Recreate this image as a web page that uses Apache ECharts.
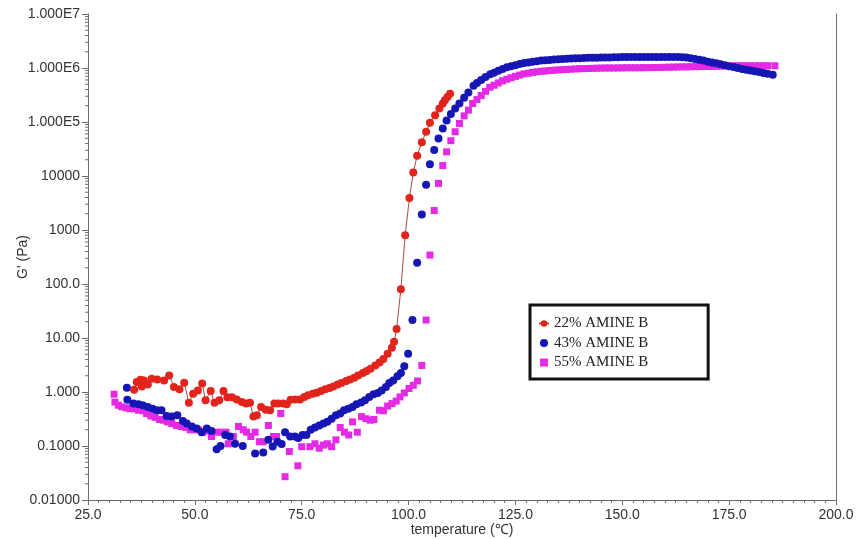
<!DOCTYPE html>
<html>
<head>
<meta charset="utf-8">
<script src="https://cdn.jsdelivr.net/npm/echarts@6/dist/echarts.min.js"></script>
<style>
  html, body { margin: 0; padding: 0; background: #fff; }
  #chart { width: 856px; height: 539px; }
</style>
</head>
<body>
<div id="chart"></div>
<script>
// temperature (°C), G' (Pa)
var amine22 = [
  [35.8,1.1],[36.4,1.53],[37.3,1.69],[37.6,1.27],[38.1,1.64],[39.0,1.37],[39.9,1.76],[41.2,1.71],
  [42.8,1.64],[44.0,2.03],[45.1,1.24],[46.4,1.12],[47.5,1.49],[48.6,0.63],[49.6,0.93],[50.7,1.07],
  [51.7,1.43],[52.5,0.70],[53.7,1.04],[54.6,0.63],[55.7,0.70],[56.7,1.04],[57.6,0.80],[58.7,0.80],
  [59.8,0.73],[61.0,0.65],[62.0,0.61],[62.9,0.63],[63.7,0.35],[64.5,0.37],[65.5,0.53],[66.6,0.47],
  [67.6,0.46],[68.6,0.61],[69.5,0.61],[70.6,0.61],[71.5,0.59],[72.4,0.72],[73.4,0.73],[74.6,0.73],
  [75.6,0.81],[76.5,0.87],[77.6,0.93],[78.5,0.97],[79.5,1.04],[80.5,1.12],[81.5,1.19],[82.4,1.27],
  [83.4,1.37],[84.3,1.47],[85.4,1.6],[86.3,1.71],[87.3,1.84],[88.2,2.03],[89.3,2.24],[90.2,2.44],
  [91.1,2.7],[92.2,3.1],[93.2,3.5],[94.1,4.1],[95.1,5.1],[96.1,6.6],[96.6,8.5],[97.2,14.7],
  [98.2,80],[99.2,800],[100.2,3900],[101.1,11600],[102.0,23800],[103.1,42000],[104.1,66000],
  [105.0,97000],[106.2,134000],[107.2,178000],[108.0,220000],[108.5,252000],[109.1,290000],[109.7,335000]
];
var amine43 = [
  [34.1,1.2],[34.2,0.72],[35.6,0.61],[36.8,0.59],[37.8,0.57],[39.0,0.53],[40.1,0.49],[41.1,0.46],
  [42.2,0.46],[43.4,0.36],[44.6,0.35],[45.9,0.37],[47.2,0.29],[48.1,0.26],[49.3,0.23],[50.4,0.21],
  [51.6,0.18],[52.8,0.21],[53.9,0.19],[55.1,0.087],[56.0,0.10],[57.1,0.16],[58.2,0.15],[59.4,0.11],
  [61.2,0.10],[64.1,0.073],[66.0,0.076],[67.2,0.13],[68.2,0.098],[69.3,0.12],[70.3,0.109],[71.1,0.18],
  [72.3,0.15],[73.4,0.15],[74.2,0.14],[75.2,0.16],[76.1,0.16],[77.1,0.20],[78.1,0.22],[79.1,0.24],
  [80.1,0.26],[81.0,0.28],[82.0,0.32],[83.0,0.37],[84.0,0.40],[84.9,0.46],[85.9,0.49],[86.9,0.53],
  [87.8,0.59],[88.9,0.64],[89.8,0.70],[90.8,0.81],[91.8,0.91],[92.8,0.96],[93.7,1.07],[94.7,1.24],
  [95.5,1.47],[96.4,1.64],[97.4,1.95],[98.2,2.24],[99.0,3.0],[99.9,5.1],[100.9,21.5],[102.0,248],
  [103.1,1930],[104.1,6900],[105.0,16500],[106.0,30300],[107.0,49700],[108.0,76000],[108.9,107000],
  [109.9,140000],[110.9,178000],[111.9,220000],[113,280000],[114,350000],[115.2,470000],[116,530000],
  [117,600000],[118,680000],[119.1,770000],[120,820000],[121,890000],[122,960000],[123,1030000],
  [124,1080000],[125,1130000],[126,1190000],[127,1240000],[128,1270000],[129,1310000],[130,1340000],
  [131,1370000],[132,1390000],[133,1410000],[134,1430000],[135,1450000],[136,1470000],[137,1490000],
  [138,1500000],[139,1510000],[140,1520000],[141,1530000],[142,1540000],[143,1550000],[144,1550000],
  [145,1560000],[146,1570000],[147,1570000],[148,1580000],[149,1580000],[150,1590000],[151,1590000],
  [152,1600000],[153,1600000],[154,1600000],[155,1600000],[156,1600000],[157,1600000],[158,1600000],
  [159,1600000],[160,1600000],[161,1600000],[162,1600000],[163,1590000],[164,1580000],[165,1560000],
  [166,1510000],[167,1470000],[168,1420000],[169,1370000],[170,1310000],[171,1270000],[172,1220000],
  [173,1170000],[174,1130000],[175,1080000],[176,1040000],[177,1000000],[178,960000],[179,930000],
  [180,900000],[181,870000],[182,840000],[183,810000],[184,780000],[185.2,750000]
];
var amine55 = [
  [31.1,0.91],[31.3,0.65],[32.1,0.57],[32.9,0.53],[33.9,0.51],[34.8,0.49],[35.8,0.49],[36.8,0.46],
  [37.8,0.45],[38.7,0.40],[39.7,0.36],[40.7,0.34],[41.7,0.31],[42.6,0.30],[43.6,0.28],[44.6,0.26],
  [45.7,0.24],[46.8,0.23],[47.9,0.22],[48.9,0.20],[49.9,0.20],[50.8,0.20],[51.8,0.18],[52.8,0.19],
  [53.9,0.15],[55.1,0.18],[56.3,0.18],[57.3,0.18],[57.8,0.11],[59.0,0.15],[60.2,0.23],[61.3,0.20],
  [62.1,0.18],[63.1,0.15],[64.1,0.18],[65.1,0.12],[66.0,0.12],[67.2,0.24],[68.4,0.15],[69.1,0.15],
  [70.1,0.40],[71.1,0.027],[72.1,0.079],[73.0,0.15],[74.1,0.043],[75.0,0.097],[76.9,0.097],[78.1,0.11],
  [79.1,0.091],[80.1,0.104],[81.0,0.11],[82.0,0.097],[83.0,0.13],[84.0,0.22],[85.0,0.18],[86.0,0.16],
  [86.9,0.28],[88.0,0.18],[89.0,0.35],[90.0,0.32],[91.0,0.30],[91.9,0.31],[93.2,0.46],[94.1,0.45],
  [95.1,0.55],[96.1,0.61],[97.1,0.68],[98.0,0.81],[99.0,0.96],[100.1,1.16],[101.1,1.33],[102.1,1.6],
  [103.1,3.1],[104.1,21.5],[105.0,344],[106.0,2290],[107.0,7300],[108.0,15600],[108.9,28000],
  [109.9,45000],[110.9,66000],[111.9,94000],[113,130000],[114,166000],[115,220000],[116,260000],
  [117,310000],[118,370000],[119,440000],[120,480000],[121,530000],[122,580000],[123,620000],
  [124,660000],[125,700000],[126,740000],[127,780000],[128,800000],[129,830000],[130,850000],
  [131,870000],[132,880000],[133,900000],[134,910000],[135,920000],[136,930000],[137,940000],
  [138,950000],[139,960000],[140,970000],[141,975000],[142,980000],[143,985000],[144,990000],
  [145,995000],[146,1000000],[147,1000000],[148,1000000],[149,1005000],[150,1005000],[151,1010000],
  [152,1010000],[153,1010000],[154,1010000],[155,1015000],[156,1015000],[157,1020000],[158,1020000],
  [159,1025000],[160,1030000],[161,1035000],[162,1040000],[163,1045000],[164,1050000],[165,1050000],
  [166,1055000],[167,1060000],[168,1065000],[169,1065000],[170,1070000],[171,1075000],[172,1080000],
  [173,1085000],[174,1090000],[175,1090000],[176,1095000],[177,1100000],[178,1100000],[179,1100000],
  [180,1100000],[181,1100000],[182,1100000],[183,1100000],[184,1100000],[185.7,1100000]
];

var seriesNames = ['22% AMINE B', '43% AMINE B', '55% AMINE B'];
var yTickValues = [0.01, 0.1, 1, 10, 100, 1000, 10000, 1e5, 1e6, 1e7];
var yTickLabels = ['0.01000', '0.1000', '1.000', '10.00', '100.0', '1000', '10000', '1.000E5', '1.000E6', '1.000E7'];
var minorSteps = [2, 3, 4, 5, 6, 7, 8, 9];

// log minor ticks 2..9 in each decade
var yMinor = [];
for (var d = 0; d < yTickValues.length - 1; d++) {
  for (var k = 0; k < minorSteps.length; k++) {
    yMinor.push([25, yTickValues[d] * minorSteps[k]]);
  }
}

var axisGray = '#6e6e6e';
var labelFont = { color: '#333', fontSize: 14, fontFamily: 'Liberation Sans, Arial, sans-serif' };

var myChart = echarts.init(document.getElementById('chart'));
myChart.setOption({
  animation: false,
  grid: { left: 88, right: 20, top: 14, bottom: 39, outerBoundsMode: 'none', containLabel: false },
  legend: {
    orient: 'vertical',
    left: 530,
    top: 305,
    padding: [11, 60, 9, 8],
    itemGap: 4.5,
    itemWidth: 10,
    itemHeight: 8,
    borderColor: '#111',
    borderWidth: 3,
    backgroundColor: '#fff',
    textStyle: { fontFamily: 'Liberation Serif, Times New Roman, serif', fontSize: 15, color: '#222' },
    data: [
      { name: seriesNames[0] },
      { name: seriesNames[1], icon: 'circle' },
      { name: seriesNames[2], icon: 'path://M0 0H1V1H0Z' }
    ]
  },
  xAxis: {
    type: 'value',
    min: 25,
    max: 200,
    interval: 25,
    name: 'temperature (℃)',
    nameLocation: 'middle',
    nameGap: 23,
    nameMoveOverlap: false,
    nameTextStyle: labelFont,
    axisLine: { lineStyle: { color: axisGray, width: 1 } },
    axisTick: { length: 5, lineStyle: { color: axisGray } },
    minorTick: { show: true, splitNumber: 10, length: 3, lineStyle: { color: axisGray } },
    axisLabel: Object.assign({ margin: 8, formatter: function (v) { return v.toFixed(1) } }, labelFont),
    splitLine: { show: false }
  },
  yAxis: [
    {
      type: 'log',
      logBase: 10,
      min: 0.01,
      max: 1e7,
      interval: 1,
      name: "G' (Pa)",
      nameLocation: 'middle',
      nameGap: 58,
      nameMoveOverlap: false,
      nameTextStyle: labelFont,
      axisLine: { show: true, lineStyle: { color: axisGray, width: 1 } },
      axisTick: { show: true, length: 6, lineStyle: { color: axisGray } },
      axisLabel: Object.assign({
        margin: 8,
        formatter: function (v) {
          var i = yTickValues.findIndex(function (t) { return Math.abs(Math.log10(t) - Math.log10(v)) < 1e-6 });
          return i >= 0 ? yTickLabels[i] : '';
        }
      }, labelFont),
      splitLine: { show: false }
    },
    {
      type: 'log',
      logBase: 10,
      min: 0.01,
      max: 1e7,
      position: 'right',
      axisLine: { show: true, lineStyle: { color: axisGray, width: 1 } },
      axisTick: { show: false },
      axisLabel: { show: false },
      splitLine: { show: false }
    }
  ],
  series: [
    {
      name: seriesNames[0],
      type: 'line',
      data: amine22,
      symbol: 'circle',
      symbolSize: 8,
      itemStyle: { color: '#e3241c' },
      lineStyle: { color: '#a84a40', width: 1 },
      z: 5
    },
    {
      name: seriesNames[1],
      type: 'scatter',
      data: amine43,
      symbol: 'circle',
      symbolSize: 8,
      itemStyle: { color: '#1616b4', opacity: 1 },
      z: 4
    },
    {
      name: seriesNames[2],
      type: 'scatter',
      data: amine55,
      symbol: 'rect',
      symbolSize: 7,
      itemStyle: { color: '#e42ae4', opacity: 1 },
      z: 3
    },
    {
      // minor ticks on the log axis
      type: 'custom',
      silent: true,
      data: yMinor,
      clip: false,
      renderItem: function (params, api) {
        var p = api.coord([api.value(0), api.value(1)]);
        return {
          type: 'line',
          shape: { x1: p[0] - 3, y1: p[1], x2: p[0], y2: p[1] },
          style: { stroke: axisGray, lineWidth: 1 }
        };
      }
    }
  ]
});
</script>
</body>
</html>
